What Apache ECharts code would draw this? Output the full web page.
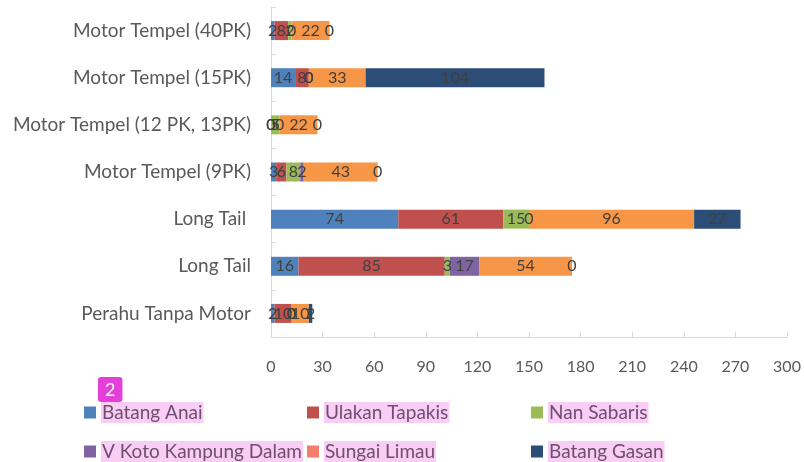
<!DOCTYPE html>
<html><head><meta charset="utf-8">
<script src="https://cdn.jsdelivr.net/npm/echarts@6/dist/echarts.min.js"></script>
<style>html,body{margin:0;padding:0;background:#fff}#c{width:804px;height:462px}</style>
</head><body><div id="c"></div>
<script>
var categories = ['Perahu Tanpa Motor','Long Tail','Long Tail ','Motor Tempel (9PK)','Motor Tempel (12 PK, 13PK)','Motor Tempel (15PK)','Motor Tempel (40PK)'];
var seriesNames = ['Batang Anai','Ulakan Tapakis','Nan Sabaris','V Koto Kampung Dalam','Sungai Limau','Batang Gasan'];
var batangAnai   = [2, 16, 74, 3, 0, 14, 2];
var ulakanTapakis= [10, 85, 61, 6, 0, 8, 8];
var nanSabaris   = [0, 3, 15, 8, 5, 0, 2];
var vKoto        = [0, 17, 0, 2, 0, 0, 0];
var sungaiLimau  = [10, 54, 96, 43, 22, 33, 22];
var batangGasan  = [2, 0, 27, 0, 0, 104, 0];
var xTicks = [0,30,60,90,120,150,180,210,240,270,300];

var colors = ['#4F81BD','#C0504D','#9BBB59','#8064A2','#F79646','#2C4D75'];
var legendIconColors = ['#4F81BD','#C0504D','#9BBB59','#8064A2','#F27E6B','#2C4D75'];
var values = [batangAnai, ulakanTapakis, nanSabaris, vKoto, sungaiLimau, batangGasan];
var FONT = 'Lato';

var series = seriesNames.map(function(n, i){
  return {
    name: n, type: 'bar', stack: 'all', barWidth: 19,
    data: values[i],
    itemStyle: {color: colors[i]},
    label: {show: true, position: 'inside', color: '#404040', fontFamily: FONT, fontSize: 16},
    emphasis: {disabled: true}
  };
});

var legendLefts = [84, 307, 531, 84, 307, 531];
var legendTops = [402, 402, 402, 441, 441, 441];
var legends = seriesNames.map(function(n, i){
  return {
    left: legendLefts[i], top: legendTops[i], padding: 0,
    itemWidth: 12, itemHeight: 12, icon: 'rect', itemGap: 0,
    data: [{name: n, itemStyle: {color: legendIconColors[i]}}],
    selectedMode: false,
    textStyle: {fontFamily: FONT, fontSize: 19, lineHeight: 21, color: '#6e4f6e',
      backgroundColor: '#f9cdf5', padding: [0, 1, 0, 1]}
  };
});

var chart = echarts.init(document.getElementById('c'));
chart.setOption({
  animation: false,
  grid: {left: 271, right: 17, top: 7, bottom: 125},
  xAxis: {
    type: 'value', min: 0, max: 300, interval: 30,
    axisLine: {show: true, lineStyle: {color: '#d9d9d9'}},
    axisTick: {show: true, inside: true, length: 5, lineStyle: {color: '#d9d9d9'}},
    splitLine: {show: false},
    axisLabel: {margin: 22, color: '#595959', fontFamily: FONT, fontSize: 16,
      formatter: function(v){ return xTicks.indexOf(v) >= 0 ? String(v) : ''; }}
  },
  yAxis: {
    type: 'category', data: categories,
    axisLine: {show: true, lineStyle: {color: '#d9d9d9'}},
    axisTick: {show: true, inside: true, length: 5, lineStyle: {color: '#d9d9d9'}},
    axisLabel: {margin: 20, color: '#595959', fontFamily: FONT, fontSize: 19}
  },
  legend: legends,
  graphic: [{
    type: 'text', left: 98, top: 377, z: 100,
    style: {text: '2', fill: '#fff', font: '18px ' + FONT, backgroundColor: '#E43FD9',
      padding: [4, 7, 3, 7], borderRadius: 3}
  }],
  series: series
});
</script></body></html>
